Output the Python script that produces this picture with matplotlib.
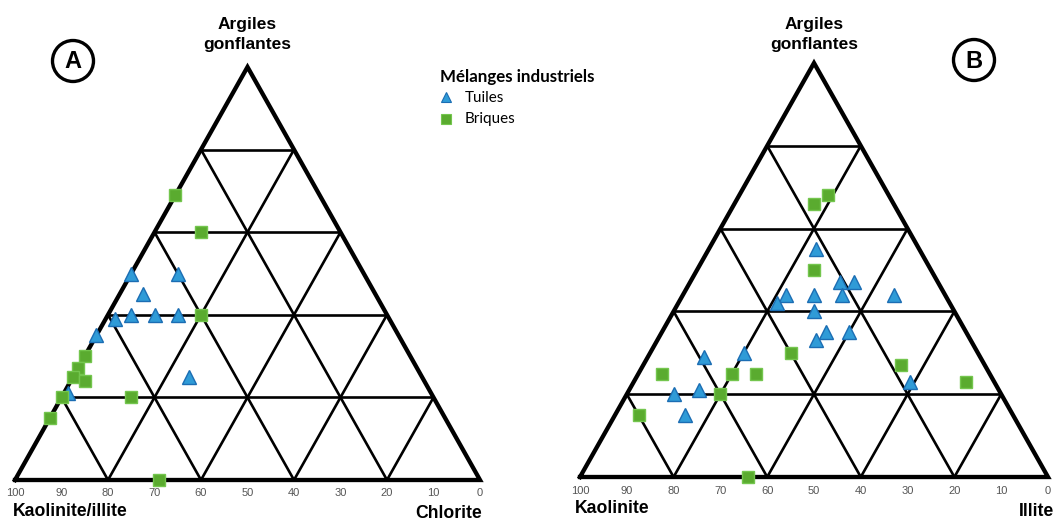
import matplotlib.pyplot as plt
from matplotlib.patches import Circle

W, H = 1055, 521

# Compositions in percent: (kaolinite, argiles gonflantes, chlorite / illite)
a_briques = [(31, 69, 0), (30, 60, 10), (40, 40, 20), (70, 30, 0), (73, 27, 0),
             (75, 25, 0), (73, 24, 3), (80, 20, 0), (65, 20, 15), (85, 15, 0),
             (69, 0, 31)]
a_tuiles = [(50, 50, 0), (40, 50, 10), (50, 45, 5), (59, 39, 2), (55, 40, 5),
            (50, 40, 10), (45, 40, 15), (65, 35, 0), (50, 25, 25), (78, 21, 1)]

b_briques = [(17, 66, 17), (13, 68, 19), (25, 50, 25), (40, 30, 30), (18, 27, 55),
             (6, 23, 71), (70, 25, 5), (55, 25, 20), (50, 25, 25), (60, 20, 20),
             (80, 15, 5), (64, 0, 36)]
b_tuiles = [(22, 55, 23), (21, 47, 32), (18, 47, 35), (34, 44, 22), (28, 44, 28),
            (22, 44, 34), (11, 44, 45), (37, 42, 21), (30, 40, 30), (30, 35, 35),
            (25, 35, 40), (33, 33, 34), (50, 30, 20), (59, 29, 12), (18, 23, 59),
            (70, 20, 10), (64, 21, 15), (70, 15, 15)]

tick_labels = ['100', '90', '80', '70', '60', '50', '40', '30', '20', '10', '0']
grid_steps = [20, 40, 60, 80]

BLUE, BLUE_EDGE = '#2f9bd7', '#1b6db3'
GREEN, GREEN_EDGE = '#5aab2f', '#74c64e'
BOLD = 'Liberation Sans'


def fx(x):
    return x / W


def fy(y):
    return 1 - y / H


def tern(points):
    xs = [c / 100 + s / 200 for k, s, c in points]
    ys = [s / 100 for k, s, c in points]
    return xs, ys


def draw_triangle(ax):
    # inner grid
    for g in grid_steps:
        for line in ([(100 - g, g, 0), (0, g, 100 - g)],
                     [(100 - g, 0, g), (0, 100 - g, g)],
                     [(g, 0, 100 - g), (g, 100 - g, 0)]):
            xs, ys = tern(line)
            ax.plot(xs, ys, color='black', lw=1.9, clip_on=False,
                    solid_capstyle='butt')
    xs, ys = tern([(100, 0, 0), (0, 0, 100), (0, 100, 0), (100, 0, 0)])
    ax.plot(xs, ys, color='black', lw=3.1, clip_on=False, solid_joinstyle='miter')
    ax.set_xlim(0, 1)
    ax.set_ylim(0, 1)
    ax.axis('off')


def draw_points(ax, tuiles, briques):
    xs, ys = tern(tuiles)
    ax.plot(xs, ys, '^', ms=10, mfc=BLUE, mec=BLUE_EDGE, mew=1, ls='none',
            clip_on=False, zorder=3)
    xs, ys = tern(briques)
    ax.plot(xs, ys, 's', ms=9, mfc=GREEN, mec=GREEN_EDGE, mew=1, ls='none',
            clip_on=False, zorder=4)


fig = plt.figure(figsize=(W / 100, H / 100), dpi=100)

panels = [
    # left, right, bottom, top (pixels), data, tick row
    (15, 480, 480, 67, a_tuiles, a_briques, 493),
    (580, 1048, 477, 63, b_tuiles, b_briques, 490.5),
]
for left, right, bottom, top, tuiles, briques, tick_y in panels:
    ax = fig.add_axes([fx(left), fy(bottom), (right - left) / W, (bottom - top) / H])
    draw_triangle(ax)
    draw_points(ax, tuiles, briques)
    for i, lab in enumerate(tick_labels):
        x = left + (right - left) * i / 10
        fig.text(fx(x), fy(tick_y), lab, ha='center', va='center', fontsize=8,
                 color='#555555', family=BOLD)
    cx = (left + right) / 2
    fig.text(fx(cx), fy(29), 'Argiles', ha='center', va='baseline',
             fontsize=12.5, fontweight='bold', family=BOLD)
    fig.text(fx(cx), fy(48.5), 'gonflantes', ha='center', va='baseline',
             fontsize=12.5, fontweight='bold', family=BOLD)

# bottom corner labels
fig.text(fx(13), fy(516), 'Kaolinite/illite', ha='left', va='baseline',
         fontsize=12.7, fontweight='bold', family=BOLD)
fig.text(fx(482), fy(518), 'Chlorite', ha='right', va='baseline',
         fontsize=12.7, fontweight='bold', family=BOLD)
fig.text(fx(575), fy(513), 'Kaolinite', ha='left', va='baseline',
         fontsize=12.7, fontweight='bold', family=BOLD)
fig.text(fx(1019), fy(516), 'Illite', ha='left', va='baseline',
         fontsize=12.7, fontweight='bold', family=BOLD)

# circled panel letters
over = fig.add_axes([0, 0, 1, 1])
over.set_xlim(0, W)
over.set_ylim(H, 0)
over.axis('off')
over.patch.set_alpha(0)
for (cx, cy), letter in [((73, 61), 'A'), ((974, 60), 'B')]:
    over.add_patch(Circle((cx, cy), 20.5, fill=False, lw=2.4, ec='black'))
    over.text(cx, cy + 1, letter, ha='center', va='center', fontsize=17,
              fontweight='bold', family=BOLD)

# legend
over.text(440, 82, 'Mélanges industriels', ha='left', va='baseline',
          fontsize=12.2, fontweight='bold', family='Lato')
over.plot([446], [97], '^', ms=7, mfc=BLUE, mec=BLUE_EDGE, mew=0.8)
over.text(465, 98, 'Tuiles', ha='left', va='center', fontsize=11, family='Lato')
over.plot([446], [119], 's', ms=6.5, mfc=GREEN, mec=GREEN_EDGE, mew=0.8)
over.text(465, 119, 'Briques', ha='left', va='center', fontsize=11, family='Lato')

fig.savefig('out.png', dpi=100)
